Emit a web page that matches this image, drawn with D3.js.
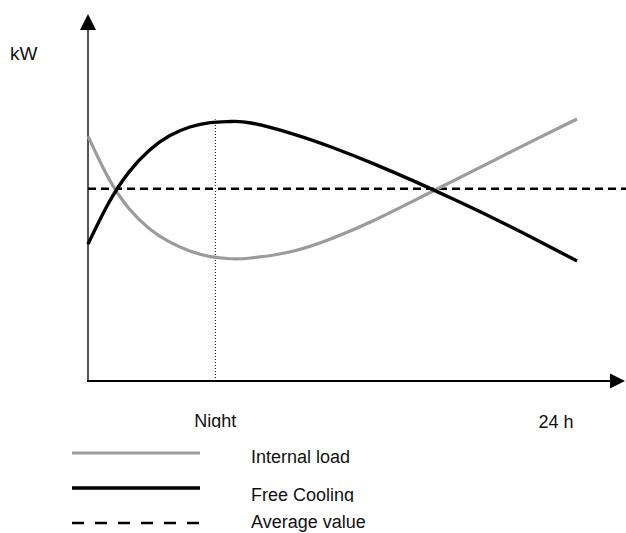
<!DOCTYPE html>
<html lang="en">
<head>
<meta charset="utf-8">
<title>Internal load vs free cooling</title>
<script src="https://d3js.org/d3.v7.min.js"></script>
<style>
  html, body { margin: 0; padding: 0; background: #fff; }
  svg { display: block; }
  text { font-family: "Liberation Sans", Arial, sans-serif; font-size: 18px; fill: #111; }
</style>
</head>
<body>
<svg id="chart"></svg>
<script>
// data (hours of the day, relative kW)
const hours        = [0, 1, 2, 3, 4, 5, 6, 7, 8, 10, 12, 14, 16, 18, 20, 22, 24];
const internalLoad = [66.9, 55.5, 47.2, 41.7, 38.0, 35.5, 34.0, 33.4, 33.6, 35.4, 39.0, 43.8, 49.3, 54.9, 60.5, 66.1, 71.6];
const freeCooling  = [37.4, 48.5, 57.0, 63.0, 67.0, 69.4, 70.6, 70.9, 70.5, 67.6, 63.8, 59.4, 54.6, 49.5, 44.2, 38.6, 32.8];
const averageValue = 52.5;
const nightHour = 6.25;
const nightTop = 71.5;
const legendLabels = ["Internal load", "Free Cooling", "Average value"];

const width = 626, height = 533;
const svg = d3.select("#chart").attr("width", width).attr("height", height);

const x = d3.scaleLinear().domain([0, 24]).range([88, 577]);
const y = d3.scaleLinear().domain([0, 100]).range([381, 15]);
const xEnd = 625;

const defs = svg.append("defs");

//axes
svg.append("line")
  .attr("x1", x(0)).attr("x2", x(0))
  .attr("y1", y(0)).attr("y2", y(100) + 10)
  .attr("stroke", "#555").attr("stroke-width", 2);
svg.append("path")
  .attr("d", `M${x(0)},${y(100) - 1} L${x(0) - 8},${y(100) + 15} L${x(0) + 8},${y(100) + 15} Z`)
  .attr("fill", "#000");

svg.append("line")
  .attr("x1", x(0) - 1).attr("x2", xEnd - 10)
  .attr("y1", y(0)).attr("y2", y(0))
  .attr("stroke", "#000").attr("stroke-width", 2);
svg.append("path")
  .attr("d", `M${xEnd},${y(0)} L${xEnd - 15},${y(0) - 7.5} L${xEnd - 15},${y(0) + 7.5} Z`)
  .attr("fill", "#000");

// night marker
svg.append("line")
  .attr("x1", x(nightHour)).attr("x2", x(nightHour))
  .attr("y1", y(0)).attr("y2", y(nightTop))
  .attr("stroke", "#000").attr("stroke-width", 1)
  .attr("stroke-dasharray", "1,2");

// average
svg.append("line")
  .attr("x1", x(0)).attr("x2", width)
  .attr("y1", y(averageValue)).attr("y2", y(averageValue))
  .attr("stroke", "#000").attr("stroke-width", 2.5)
  .attr("stroke-dasharray", "8,5");

const line = vals => d3.line()
  .x((d, i) => x(hours[i]))
  .y(d => y(d))
  .curve(d3.curveNatural)(vals);

svg.append("path")
  .attr("d", line(internalLoad))
  .attr("fill", "none").attr("stroke", "#9b9b9b").attr("stroke-width", 3.2);

svg.append("path")
  .attr("d", line(freeCooling))
  .attr("fill", "none").attr("stroke", "#000").attr("stroke-width", 3.4);

// labels (bottom of glyphs is cut like in the original)
function clippedText(id, tx, ty, str, anchor) {
  defs.append("clipPath").attr("id", id)
    .append("rect").attr("x", 0).attr("y", ty - 20).attr("width", width).attr("height", 21);
  svg.append("text")
    .attr("clip-path", `url(#${id})`)
    .attr("x", tx).attr("y", ty)
    .attr("text-anchor", anchor || "start")
    .text(str);
}

svg.append("text").attr("x", 10).attr("y", 60).style("font-size", "19px").text("kW");
clippedText("clip-night", x(nightHour), 427, "Night", "middle");
svg.append("text").attr("x", 556).attr("y", 428).attr("text-anchor", "middle").text("24 h");

// legend
const legendY = [453, 488, 523];
const textY = [463, 501, 528];
const legendStyle = [
  { stroke: "#9b9b9b", w: 3.2, dash: null },
  { stroke: "#000", w: 3.6, dash: null },
  { stroke: "#000", w: 2.5, dash: "12,11" }
];
legendLabels.forEach((label, i) => {
  svg.append("line")
    .attr("x1", 72).attr("x2", 200)
    .attr("y1", legendY[i]).attr("y2", legendY[i])
    .attr("stroke", legendStyle[i].stroke)
    .attr("stroke-width", legendStyle[i].w)
    .attr("stroke-dasharray", legendStyle[i].dash);
  if (i < 2) {
    clippedText("clip-leg" + i, 251, textY[i], label);
  } else {
    svg.append("text").attr("x", 251).attr("y", textY[i]).text(label);
  }
});
</script>
</body>
</html>
